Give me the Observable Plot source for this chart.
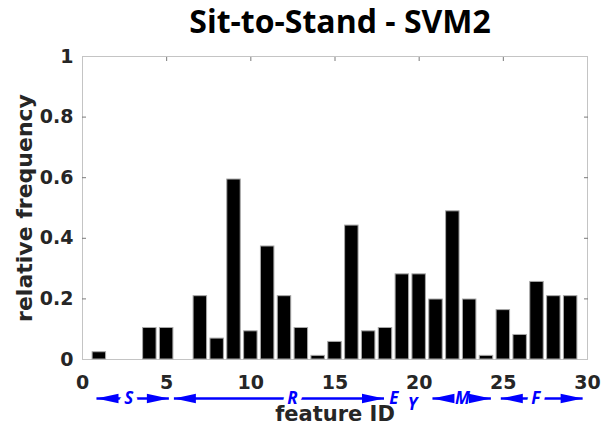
<!DOCTYPE html>
<html>
<head>
<meta charset="utf-8">
<script src="https://cdn.jsdelivr.net/npm/d3@7"></script>
<script src="https://cdn.jsdelivr.net/npm/@observablehq/plot@0.6"></script>
<style>body{margin:0;background:#fff}</style>
</head>
<body>
<div id="chart"></div>
<script>
// ---- data ----
const featureIds = [1,2,3,4,5,6,7,8,9,10,11,12,13,14,15,16,17,18,19,20,21,22,23,24,25,26,27,28,29];
const frequencies = [0.024,0,0,0.104,0.104,0,0.209,0.069,0.594,0.093,0.373,0.209,0.104,0.012,0.058,0.442,0.093,0.104,0.281,0.281,0.198,0.489,0.198,0.012,0.163,0.081,0.256,0.209,0.209];
const xTicks = [0,5,10,15,20,25,30];
const yTicks = [0,0.2,0.4,0.6,0.8,1];
const yMinorTicks = [0.2,0.4,0.6,0.8];

// group annotations below the x axis
const groupLabels = ["S","R","M","F"];
const groupStart = [0.83,5.43,20.79,24.85];
const groupEnd = [5.13,17.91,24.26,29.71];
const groupLabelX = [2.75,12.47,22.57,26.93];
const singleLabels = ["E","Y"];
const singleX = [18.5,19.6];
const singleY = [-0.128,-0.149];
const annotationY = -0.1287;

const titleText = "Sit-to-Stand - SVM2";
const xLabel = "feature ID";
const yLabel = "relative frequency";

// ---- build ----
const bars = featureIds.map((id, i) => ({id, f: frequencies[i]}));
const groups = groupLabels.map((label, i) => ({label, start: groupStart[i], end: groupEnd[i], lx: groupLabelX[i]}));
const singles = singleLabels.map((label, i) => ({label, x: singleX[i], y: singleY[i]}));
const barWidth = 0.8;

const headLen = 22, headHalf = 4.7;
const arrowRight = {draw(ctx) { ctx.moveTo(0,0); ctx.lineTo(-headLen,-headHalf); ctx.lineTo(-headLen,headHalf); ctx.closePath(); }};
const arrowLeft = {draw(ctx) { ctx.moveTo(0,0); ctx.lineTo(headLen,-headHalf); ctx.lineTo(headLen,headHalf); ctx.closePath(); }};

const axisFont = {fontFamily: "DejaVu Sans", fontWeight: "bold", fontSize: 19};
const annFont = {fontFamily: "Open Sans", fontStyle: "italic", fontWeight: "bold", fontSize: 17};
const blue = "#0000ff";

const chart = Plot.plot({
  width: 609,
  height: 430,
  marginLeft: 82,
  marginRight: 22,
  marginTop: 56,
  marginBottom: 71,
  style: {background: "#fff", overflow: "visible"},
  x: {domain: [0, 30]},
  y: {domain: [0, 1]},
  marks: [
    Plot.frame({stroke: "#c4c4c4", strokeWidth: 1}),
    Plot.rectY(bars, {x1: d => d.id - barWidth/2, x2: d => d.id + barWidth/2, y: "f", fill: "#000", stroke: "#a8a8a8", strokeWidth: 1}),
    Plot.axisY(yTicks, {anchor: "left", tickSize: 0, tickPadding: 9, tickFormat: d => String(d), label: null, color: "#262626", ...axisFont}),
    Plot.axisY(yMinorTicks, {anchor: "left", tickSize: -4, tickFormat: () => "", label: null, color: "#7a7a7a"}),
    Plot.axisY(yMinorTicks, {anchor: "right", tickSize: -4, tickFormat: () => "", label: null, color: "#7a7a7a"}),
    Plot.axisX(xTicks.slice(1, -1), {anchor: "top", tickSize: -4, tickFormat: () => "", label: null, color: "#7a7a7a"}),
    Plot.axisX(xTicks, {anchor: "bottom", tickSize: 0, tickPadding: 16, tickFormat: d => String(d), label: null, color: "#262626", ...axisFont}),
    // annotation arrows
    Plot.link(groups, {x1: "start", x2: "end", y1: annotationY, y2: annotationY, stroke: blue, strokeWidth: 2.5}),
    Plot.text(groups, {x: "lx", y: annotationY, text: "label", fill: "#fff", stroke: "#fff", strokeWidth: 10, ...annFont}),
    Plot.dot(groups, {x: "end", y: annotationY, symbol: arrowRight, fill: blue, stroke: null, r: 5}),
    Plot.dot(groups, {x: "start", y: annotationY, symbol: arrowLeft, fill: blue, stroke: null, r: 5}),
    Plot.text(groups, {x: "lx", y: annotationY, text: "label", fill: blue, ...annFont}),
    Plot.text(singles, {x: "x", y: "y", text: "label", fill: blue, ...annFont}),
    // titles
    Plot.text([xLabel], {text: d => d, frameAnchor: "bottom", lineAnchor: "middle", textAnchor: "middle", dy: 55, fill: "#262626", fontFamily: "DejaVu Sans", fontWeight: "bold", fontSize: 21}),
    Plot.text([yLabel], {text: d => d, frameAnchor: "left", lineAnchor: "middle", textAnchor: "middle", rotate: -90, dx: -58, fill: "#262626", fontFamily: "DejaVu Sans", fontWeight: "bold", fontSize: 22}),
    Plot.text([titleText], {text: d => d, frameAnchor: "top", lineAnchor: "middle", textAnchor: "middle", dx: 5, dy: -33.5, fill: "#000", fontFamily: "Open Sans", fontWeight: "bold", fontSize: 32})
  ]
});
document.getElementById("chart").appendChild(chart);
</script>
</body>
</html>
